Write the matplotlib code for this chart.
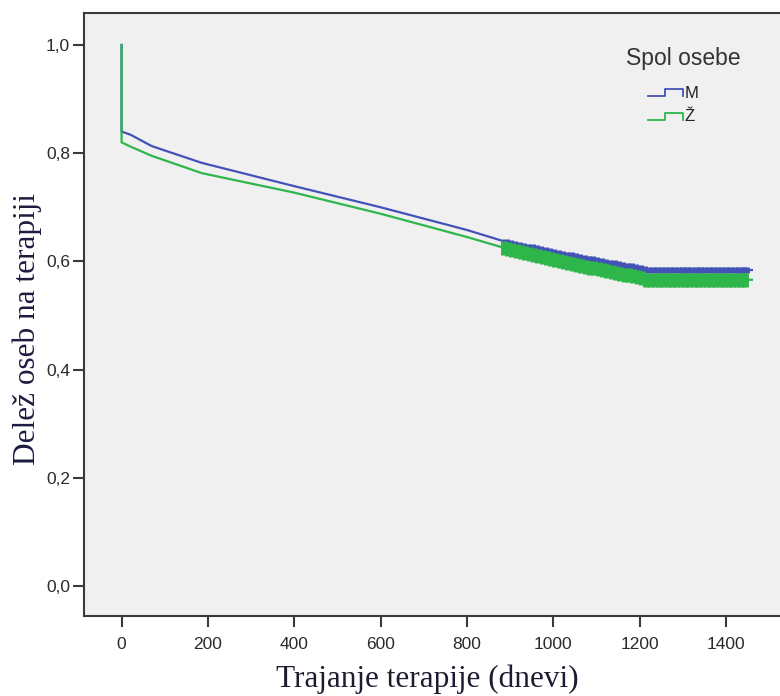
import numpy as np
import matplotlib
matplotlib.use("Agg")
import matplotlib.pyplot as plt
from matplotlib.legend_handler import HandlerBase
from matplotlib.lines import Line2D
from matplotlib.ticker import FuncFormatter

# Kaplan-Meier estimates (time in days, proportion still on therapy)
groups = ["M", "Ž"]
time_m = [0, 0, 21, 70, 186, 400, 600, 800, 890, 1000, 1100, 1200, 1215, 1460]
surv_m = [1.0, 0.840, 0.834, 0.813, 0.782, 0.739, 0.700, 0.658, 0.636, 0.617, 0.602, 0.588, 0.584, 0.584]
time_z = [0, 0, 21, 70, 186, 400, 600, 800, 890, 1000, 1100, 1200, 1215, 1460]
surv_z = [1.0, 0.820, 0.812, 0.795, 0.763, 0.727, 0.688, 0.645, 0.624, 0.603, 0.586, 0.570, 0.566, 0.566]

# censored observations (days)
censor_m = [890, 900, 910, 920, 930, 940, 950, 960, 970, 980, 990, 1000, 1010, 1020,
            1030, 1040, 1050, 1060, 1070, 1080, 1090, 1100, 1110, 1120, 1130, 1140,
            1150, 1160, 1170, 1180, 1190, 1200, 1210, 1220, 1230, 1240, 1250, 1260,
            1270, 1280, 1290, 1300, 1310, 1320, 1330, 1340, 1350, 1360, 1370, 1380,
            1390, 1400, 1410, 1420, 1430, 1440, 1447]
censor_z = [885, 895, 905, 915, 925, 935, 945, 955, 965, 975, 985, 995, 1005, 1015,
            1025, 1035, 1045, 1055, 1065, 1075, 1085, 1095, 1105, 1115, 1125, 1135,
            1145, 1155, 1165, 1175, 1185, 1195, 1205, 1215, 1225, 1235, 1245, 1255,
            1265, 1275, 1285, 1295, 1305, 1315, 1325, 1335, 1345, 1355, 1365, 1375,
            1385, 1395, 1405, 1415, 1425, 1435, 1445]

x_ticks = [0, 200, 400, 600, 800, 1000, 1200, 1400]
y_ticks = [0.0, 0.2, 0.4, 0.6, 0.8, 1.0]

colors = ["#4352b6", "#2eb64a"]
tick_heights = [5.0, 9.5]

sans = ["Liberation Sans", "DejaVu Sans"]
serif = ["Liberation Serif", "DejaVu Serif"]

fig = plt.figure(figsize=(7.8, 6.96), dpi=100)
ax = fig.add_axes([0.1077, 0.1149, 0.905, 0.8664])
ax.set_facecolor("#f0f0f0")

series = [(time_m, surv_m, censor_m), (time_z, surv_z, censor_z)]
for (t, s, c), col, name, th in zip(series, colors, groups, tick_heights):
    ax.plot(t, s, color=col, lw=1.6, solid_joinstyle="miter", label=name)
    cy = np.interp(c, t[1:], s[1:])
    ax.plot(c, cy, linestyle="none", marker="|", markersize=th,
            markeredgewidth=5.0, color=col)

ax.set_xlim(-87, 1548)
ax.set_ylim(-0.0555, 1.059)
ax.set_xticks(x_ticks)
ax.set_yticks(y_ticks)
ax.yaxis.set_major_formatter(FuncFormatter(lambda v, p: f"{v:.1f}".replace(".", ",")))

for side in ("left", "bottom", "top"):
    ax.spines[side].set_color("#3a3a3a")
    ax.spines[side].set_linewidth(1.5)
ax.spines["right"].set_visible(False)

ax.tick_params(axis="x", length=8, width=1.5, color="#3a3a3a", pad=7,
               labelsize=12.5, labelcolor="#2a2a2a")
ax.tick_params(axis="y", length=8, width=1.5, color="#3a3a3a", pad=2,
               labelsize=12.5, labelcolor="#2a2a2a")
for lab in ax.get_xticklabels() + ax.get_yticklabels():
    lab.set_family(sans)

ax.set_xlabel("Trajanje terapije (dnevi)", family=serif, fontsize=22.5, color="#1c1c30")
ax.set_ylabel("Delež oseb na terapiji", family=serif, fontsize=22.5, color="#1c1c40")
ax.xaxis.set_label_coords(0.4865, -0.081)
ax.yaxis.set_label_coords(-0.0595, 0.476)


class StepHandler(HandlerBase):
    def create_artists(self, legend, orig_handle, xdescent, ydescent,
                       width, height, fontsize, trans):
        x0, x1 = -xdescent, -xdescent + width
        xm = x0 + 0.5 * width
        y_lo, y_hi = -ydescent + 0.15 * height, -ydescent + 0.75 * height
        line = Line2D([x0, xm, xm, x1, x1], [y_lo, y_lo, y_hi, y_hi, y_lo],
                      color=orig_handle.get_color(), lw=1.3, transform=trans)
        return [line]


# legend title sits well above its entries
ax.text(0.8484, 0.9254, "Spol osebe", transform=ax.transAxes, ha="center",
        va="center", family=sans, fontsize=16.5, color="#333333")

handles = [Line2D([], [], color=c) for c in colors]
leg = ax.legend(handles, groups, loc="upper left",
                bbox_to_anchor=(0.7989, 0.879), frameon=False, borderpad=0,
                borderaxespad=0, handler_map={Line2D: StepHandler()},
                handlelength=2.1, handletextpad=0.1, labelspacing=0.5,
                prop={"family": sans, "size": 12})
for txt in leg.get_texts():
    txt.set_color("#222222")

fig.savefig("out.png", dpi=100, facecolor="white")
